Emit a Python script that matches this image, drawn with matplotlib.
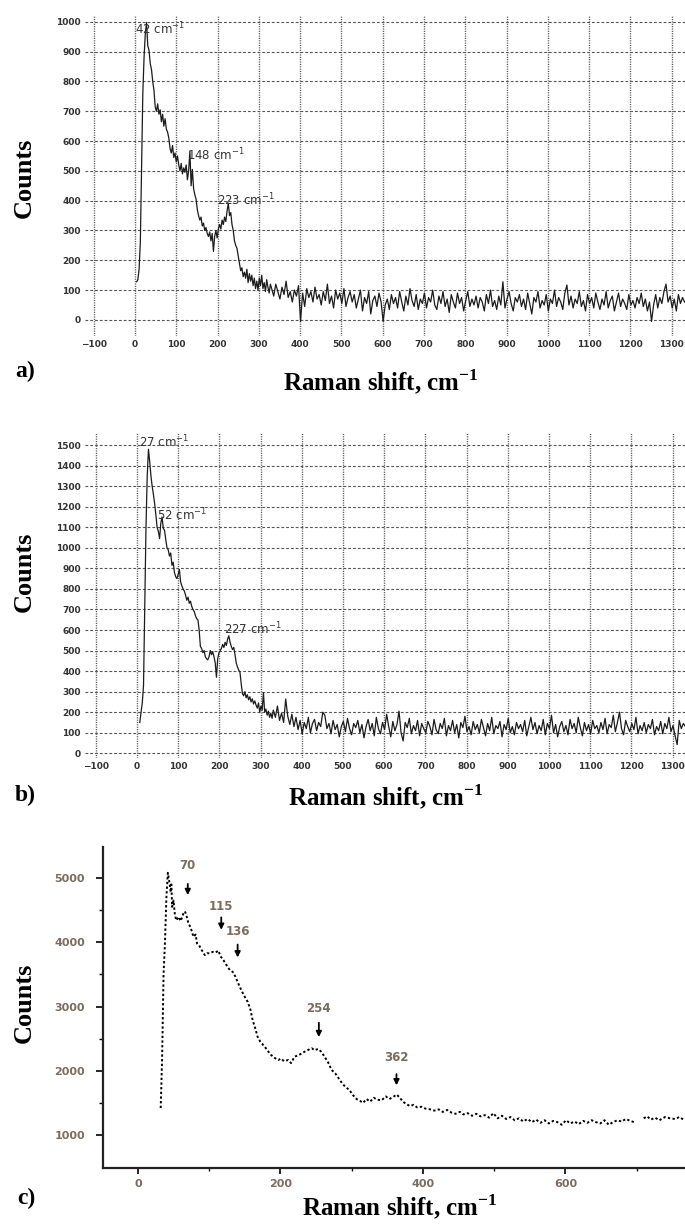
import numpy as np
import matplotlib
matplotlib.use("Agg")
import matplotlib.pyplot as plt
from matplotlib.ticker import MultipleLocator, FixedLocator

plt.rcParams["mathtext.fontset"] = "custom"
plt.rcParams["mathtext.rm"] = "Liberation Serif"
plt.rcParams["mathtext.bf"] = "Liberation Serif:bold"
plt.rcParams["mathtext.sf"] = "DejaVu Sans"

# --- panel a) : spectrum, head sampled every 3 cm-1 from 4, tail every 5 cm-1 from 331
counts_a_head = [
    128, 135, 170, 260, 520, 760, 880, 960, 998, 920,
    905, 860, 840, 800, 770, 715, 700, 725, 690, 705,
    665, 690, 650, 675, 640, 630, 610, 575, 560, 585,
    545, 560, 530, 550, 520, 500, 525, 490, 510, 495,
    520, 470, 500, 565, 450, 505, 440, 420, 405, 370,
    350, 335, 345, 315, 325, 300, 310, 290, 280, 295,
    265, 290, 230, 280, 300, 275, 305, 320, 305, 335,
    320, 345, 330, 365, 392, 350, 360, 320, 300, 265,
    250, 240, 215, 190, 165, 175, 145, 160, 140, 170,
    125, 155, 130, 150, 115, 140, 105, 130, 100, 140,
    115, 150, 105, 125, 95, 135, 110, 90, 120,
]
counts_a_tail = [
    105, 80, 120, 95, 70, 110, 85, 130, 75, 95, 60, 100, 80, 115, -5, 90, 45, 105, 75, 95,
    60, 110, 70, 85, 50, 95, 65, 120, 55, 80, 40, 100, 70, 90, 55, 105, 45, 75, 95, 60,
    85, 40, 70, 100, 30, 75, 55, 95, 20, 65, 80, 45, 90, 60, -5, 50, 70, 35, 85, 55,
    75, 40, 95, 60, 30, 80, 50, 105, 65, 45, 85, 35, 70, 55, 90, 40, 75, 60, 100, 50,
    35, 80, 55, 95, 45, 70, 25, 85, 60, 40, 90, 55, 75, 30, 65, 95, 45, 70, 50, 80,
    40, 75, 60, 30, 85, 55, 100, 45, 65, 35, 80, 50, 128, 40, 70, 95, 55, 30, 75, 60,
    85, 45, 70, 35, 90, 55, 20, 75, 60, 95, 40, 65, 50, 85, 30, 70, 55, 100, 45, 75,
    60, 35, 90, 117, 50, 80, 40, 70, 55, 95, 45, 65, 30, 85, 55, 75, 40, 90, 60, 35,
    70, 50, 95, 40, 65, 80, 30, 60, 90, 45, 70, 55, 35, 85, 50, 65, 40, 75, 55, 90,
    45, 70, 30, 60, -5, 50, 85, 40, 75, 55, 95, 120, 60, 80, 40, 70, 30, 85, 55, 75,
    60,
]
peaks_a = ["42 cm$^{\\mathsf{-1}}$", "148 cm$^{\\mathsf{-1}}$", "223 cm$^{\\mathsf{-1}}$"]
peaks_a_pos = [(0, 975), (125, 553), (198, 403)]

# --- panel b) : head every 3 cm-1 from 7, tail every 5 cm-1 from 331
counts_b_head = [
    150, 200, 245, 330, 700, 1100, 1350, 1480, 1420, 1350,
    1300, 1260, 1215, 1160, 1100, 1080, 1045, 1120, 1150, 1095,
    1085, 1040, 1000, 990, 960, 975, 915, 930, 880, 860,
    850, 870, 895, 835, 815, 800, 790, 770, 745, 760,
    730, 740, 715, 700, 690, 670, 655, 650, 600, 520,
    510, 490, 500, 470, 460, 455, 470, 500, 480, 495,
    470, 440, 370, 460, 490, 500, 510, 530, 515, 540,
    525, 555, 572, 540, 520, 505, 515, 480, 440, 420,
    405, 395, 340, 290, 280, 300, 270, 285, 260, 275,
    250, 265, 240, 255, 235, 220, 245, 200, 230, 210,
    295, 200, 215, 185, 205, 175, 195, 170,
]
counts_b_tail = [
    210, 175, 230, 160, 195, 150, 264, 180, 140, 190, 130, 175, 115, 160, 95, 150, 120, 175, 100, 145,
    165, 110, 150, 130, 200, 185, 120, 145, 95, 160, 115, 140, 80, 130, 155, 105, 170, 120, 90, 145,
    125, 160, 100, 140, 75, 130, 165, 110, 145, 85, 175, 120, 95, 150, 115, 190, 130, 80, 155, 110,
    140, 205, 100, 60, 150, 125, 170, 95, 135, 110, 160, 85, 145, 120, 100, 155, 130, 90, 165, 115,
    95, 145, 120, 170, 85, 135, 110, 160, 100, 140, 75, 150, 125, 180, 105, 130, 90, 155, 115, 140,
    100, 165, 125, 85, 145, 110, 175, 95, 135, 120, 155, 80, 140, 115, 170, 100, 130, 90, 150, 120,
    140, 105, 160, 85, 130, 175, 115, 150, 95, 135, 110, 165, 90, 145, 120, 185, 100, 140, 80, 130,
    155, 105, 135, 90, 165, 120, 145, 100, 175, 125, 85, 150, 110, 140, 95, 160, 120, 135, 100, 150,
    115, 170, 95, 140, 125, 185, 105, 150, 200, 120, 90, 160, 130, 105, 145, 115, 175, 95, 135, 110,
    150, 100, 140, 120, 165, 90, 130, 110, 155, 95, 145, 120, 175, 105, 135, 85, 42, 160, 120, 145,
    130,
]
peaks_b = ["27 cm$^{\\mathsf{-1}}$", "52 cm$^{\\mathsf{-1}}$", "227 cm$^{\\mathsf{-1}}$"]
peaks_b_pos = [(5, 1514), (48, 1158), (211, 605)]

# --- panel c)
shift_c = [32, 33, 34, 35, 36, 38, 40, 42, 44, 46, 47, 48, 50, 52, 54, 57, 60, 64, 66, 68,
           71, 74, 78, 81, 83, 86, 90, 94, 97, 101, 105, 109, 113, 116, 120, 124, 127, 129, 133, 137,
           140, 144, 149, 154, 158, 161, 165, 168, 172, 178, 183, 187, 192, 197, 201, 205, 211, 215, 220, 225,
           230, 236, 240, 244, 248, 253, 257, 262, 267, 272, 277, 282, 287, 291, 297, 302, 307, 312, 316, 321,
           326, 331, 336, 342, 348, 353, 358, 363, 367, 372, 377, 382, 387, 392, 398, 404, 410, 416, 422, 428,
           434, 440, 446, 452, 457, 463, 469, 475, 481, 487, 493, 499, 505, 511, 517, 523, 529, 535, 541, 547,
           553, 559, 565, 571, 577, 583, 589, 595, 601, 607, 613, 619, 625, 631, 637, 643, 649, 655, 661, 667,
           673, 679, 685, 691, 697, 703, 710, 715, 720, 726, 732, 740, 747, 754, 760, 766]
counts_c = [1420, 1800, 2200, 2850, 3500, 4000, 4700, 5080, 4950, 4780, 4900, 4550, 4650, 4420, 4340, 4395, 4330, 4450, 4480, 4420,
            4290, 4230, 4085, 4120, 3980, 3950, 3870, 3800, 3830, 3826, 3850, 3840, 3870, 3780, 3722, 3650, 3600, 3567, 3540, 3463,
            3380, 3282, 3170, 3075, 2950, 2790, 2650, 2530, 2450, 2375, 2300, 2245, 2200, 2167, 2190, 2150, 2167, 2120, 2220, 2240,
            2270, 2310, 2330, 2350, 2320, 2340, 2300, 2220, 2130, 2012, 1960, 1880, 1800, 1752, 1700, 1620, 1560, 1530, 1500, 1560,
            1520, 1580, 1550, 1540, 1600, 1560, 1590, 1630, 1590, 1520, 1480, 1450, 1470, 1430, 1440, 1410, 1400, 1380, 1400, 1360,
            1390, 1350, 1330, 1360, 1320, 1340, 1300, 1330, 1290, 1310, 1270, 1340, 1260, 1300, 1250, 1280, 1230, 1260, 1210, 1250,
            1200, 1240, 1190, 1230, 1180, 1220, 1200, 1160, 1230, 1180, 1210, 1170, 1220, 1190, 1230, 1200, 1180, 1230, 1160, 1200,
            1230, 1210, 1250, 1220, 1200, np.nan, 1260, 1290, 1240, 1270, 1230, 1280, 1260, 1250, 1280, 1240]
peaks_c = ["70", "115", "136", "254", "362"]
peaks_c_x = [70, 117, 140, 254, 363]
peaks_c_label_y = [5200, 4560, 4160, 2975, 2213]
peaks_c_arrow = [(4950, 4690), (4430, 4150), (4007, 3720), (2790, 2480), (1990, 1730)]

LABEL_FONT = dict(family="Liberation Serif", weight="bold")
TICK_BROWN = "#7d6b5d"


def grid_panel(ax, shift, counts, xlim, ylim, ystep, peaks, peak_pos):
    ax.plot(shift, counts, color="#1c1c1c", lw=0.9)
    ax.set_xlim(*xlim)
    ax.set_ylim(*ylim)
    ax.xaxis.set_major_locator(MultipleLocator(100))
    ax.yaxis.set_major_locator(MultipleLocator(ystep))
    for s in ax.spines.values():
        s.set_visible(False)
    ax.tick_params(length=0, labelsize=6.5, colors="#333333", pad=3)
    for lab in ax.get_xticklabels() + ax.get_yticklabels():
        lab.set_fontweight("bold")
    ax.grid(axis="y", color="#555555", lw=0.8, linestyle=(0, (2.5, 1.8)))
    ax.grid(axis="x", color="#555555", lw=1.0, linestyle=(0, (0.8, 0.9)))
    ax.set_axisbelow(True)
    for txt, (px, py) in zip(peaks, peak_pos):
        ax.text(px, py, txt, fontsize=8.5, color="#333333", ha="left", va="center")


fig = plt.figure(figsize=(6.85, 12.26), dpi=100)
W, H = 685, 1226

ax_a = fig.add_axes([85 / W, 1 - 336 / H, 600 / W, (336 - 15) / H])
shift_a = np.concatenate([4 + 3 * np.arange(len(counts_a_head)), 331 + 5 * np.arange(len(counts_a_tail))])
grid_panel(ax_a, shift_a, counts_a_head + counts_a_tail, (-121, 1332), (-54, 1023), 100, peaks_a, peaks_a_pos)

ax_b = fig.add_axes([85 / W, 1 - 758 / H, 600 / W, (758 - 433) / H])
shift_b = np.concatenate([7 + 3 * np.arange(len(counts_b_head)), 331 + 5 * np.arange(len(counts_b_tail))])
grid_panel(ax_b, shift_b, counts_b_head + counts_b_tail, (-126, 1330), (-23, 1559), 100, peaks_b, peaks_b_pos)

ax_c = fig.add_axes([103 / W, 1 - 1168 / H, 582 / W, (1168 - 847) / H])
ax_c.plot(shift_c, counts_c, color="black", lw=1.4, linestyle=(0, (1.2, 1.2)))
ax_c.set_xlim(-49, 768)
ax_c.set_ylim(487, 5482)
ax_c.spines["top"].set_visible(False)
ax_c.spines["right"].set_visible(False)
for side in ("left", "bottom"):
    ax_c.spines[side].set_linewidth(1.6)
    ax_c.spines[side].set_color("#222222")
ax_c.xaxis.set_major_locator(MultipleLocator(200))
ax_c.xaxis.set_minor_locator(MultipleLocator(100))
ax_c.yaxis.set_major_locator(MultipleLocator(1000))
ax_c.yaxis.set_minor_locator(FixedLocator([1500, 2500, 3500, 4500]))
ax_c.tick_params(axis="y", which="major", length=5, width=1.2, pad=8, labelsize=8, labelcolor=TICK_BROWN)
ax_c.tick_params(axis="y", which="minor", length=3, width=1.0)
ax_c.tick_params(axis="x", which="major", length=4, width=1.2, pad=4, labelsize=8, labelcolor=TICK_BROWN)
ax_c.tick_params(axis="x", which="minor", length=2.5, width=1.0)
for lab in ax_c.get_xticklabels() + ax_c.get_yticklabels():
    lab.set_fontweight("bold")
for txt, px, ly, (y0, y1) in zip(peaks_c, peaks_c_x, peaks_c_label_y, peaks_c_arrow):
    ax_c.text(px, ly, txt, fontsize=8.5, color=TICK_BROWN, fontweight="bold", ha="center", va="center")
    ax_c.annotate("", xy=(px, y1), xytext=(px, y0),
                  arrowprops=dict(arrowstyle="-|>", color="black", lw=1.3, mutation_scale=8))

# axis labels and panel letters
for cy in (178, 572, 1003):
    fig.text(24 / W, 1 - cy / H, "Counts", rotation=90, fontsize=19, ha="center", va="center", **LABEL_FONT)
for (lx, ly), letter in zip([(25, 371), (25, 795), (26, 1198)], ["a)", "b)", "c)"]):
    fig.text(lx / W, 1 - ly / H, letter, fontsize=17, ha="center", va="center", **LABEL_FONT)
for lx, ly in [(381, 382), (386, 797), (400, 1207)]:
    fig.text(lx / W, 1 - ly / H, "Raman shift, cm$^{\\mathbf{-1}}$", fontsize=18, ha="center", va="center", **LABEL_FONT)

fig.savefig("out.png", dpi=100)
